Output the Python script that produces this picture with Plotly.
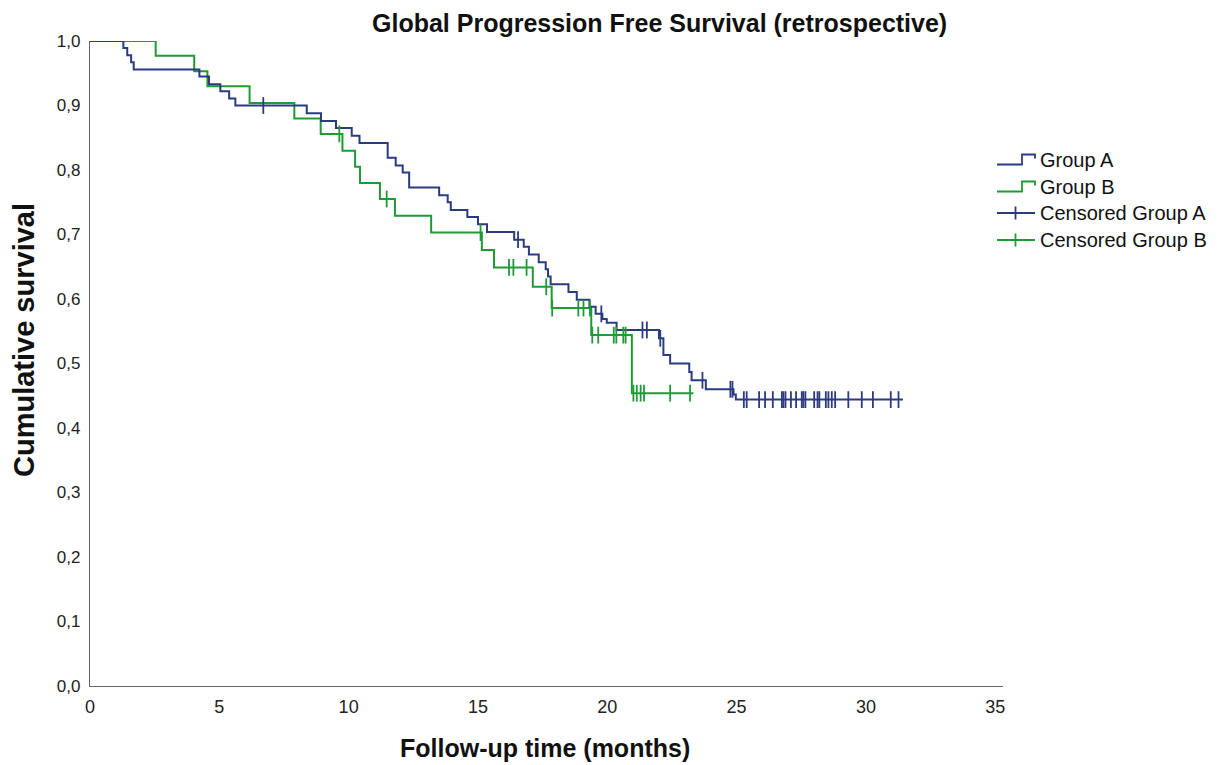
import numpy as np
import plotly.graph_objects as go

# ---------------- data ----------------
# Group A: event times (months) and survival after each step
a_times = [0, 1.29, 1.44, 1.59, 1.69, 4.23, 4.60, 5.04, 5.38, 5.62, 8.38, 8.93, 9.51,
           10.12, 10.42, 11.51, 11.82, 12.09, 12.34, 13.50, 13.83, 13.95, 14.59, 15.00,
           15.35, 16.40, 16.77, 16.97, 17.35, 17.62, 17.71, 17.81, 18.50, 18.82, 19.31,
           19.55, 19.81, 19.98, 20.36, 22.00, 22.17, 22.43, 23.17, 23.26, 23.81, 24.88,
           24.97, 31.43]
a_surv = [1.0, 0.989, 0.978, 0.967, 0.956, 0.945, 0.933, 0.922, 0.911, 0.900, 0.888, 0.876,
          0.865, 0.853, 0.842, 0.819, 0.807, 0.796, 0.773, 0.761, 0.750, 0.738, 0.727,
          0.716, 0.704, 0.692, 0.681, 0.669, 0.657, 0.646, 0.635, 0.623, 0.611, 0.599,
          0.588, 0.577, 0.569, 0.563, 0.552, 0.539, 0.513, 0.500, 0.487, 0.474, 0.460,
          0.452, 0.444, 0.444]
a_censored = [6.70, 16.55, 19.77, 21.36, 21.53, 22.05, 23.68, 24.76, 24.84, 25.28, 25.39,
              25.87, 26.10, 26.40, 26.75, 26.81, 26.89, 27.10, 27.30, 27.52, 27.58, 27.66,
              28.00, 28.13, 28.20, 28.45, 28.55, 28.68, 28.81, 29.32, 29.84, 30.27, 30.96,
              31.26]

# Group B
b_times = [0, 2.54, 4.03, 4.54, 6.17, 7.90, 8.92, 9.76, 10.25, 10.44, 11.21, 11.79, 13.19,
           15.15, 15.62, 17.12, 17.85, 19.38, 20.95, 23.33]
b_surv = [1.0, 0.977, 0.953, 0.930, 0.904, 0.880, 0.856, 0.830, 0.805, 0.780, 0.755, 0.729,
          0.703, 0.676, 0.649, 0.619, 0.586, 0.544, 0.454, 0.454]
b_censored = [9.64, 11.47, 15.10, 16.20, 16.37, 16.88, 17.64, 17.87, 18.88, 19.08, 19.33,
              19.42, 19.65, 20.25, 20.35, 20.62, 20.71, 21.01, 21.14, 21.29, 21.42, 22.43,
              23.20]

x_ticks = [0, 5, 10, 15, 20, 25, 30, 35]
y_ticks = [0.0, 0.1, 0.2, 0.3, 0.4, 0.5, 0.6, 0.7, 0.8, 0.9, 1.0]

title_text = "Global Progression Free Survival (retrospective)"
x_title = "Follow-up time (months)"
y_title = "Cumulative survival"
legend_labels = ["Group A", "Group B", "Censored Group A", "Censored Group B"]

BLUE = "#2b3b80"
GREEN = "#1f9a35"
FONT = "Liberation Sans, Arial, sans-serif"
NARROW = "Liberation Sans Narrow, Liberation Sans, Arial, sans-serif"


def step_value(times, surv, t):
    idx = np.searchsorted(np.asarray(times), t, side="right") - 1
    return np.asarray(surv)[idx]


fig = go.Figure()
fig.add_trace(go.Scatter(x=b_times, y=b_surv, mode="lines", line=dict(shape="hv", color=GREEN, width=2),
                         showlegend=False, hoverinfo="skip"))
fig.add_trace(go.Scatter(x=a_times, y=a_surv, mode="lines", line=dict(shape="hv", color=BLUE, width=2),
                         showlegend=False, hoverinfo="skip"))
fig.add_trace(go.Scatter(x=b_censored, y=step_value(b_times, b_surv, b_censored), mode="markers",
                         marker=dict(symbol="line-ns", size=12, line=dict(color=GREEN, width=1.8)),
                         showlegend=False, hoverinfo="skip"))
fig.add_trace(go.Scatter(x=a_censored, y=step_value(a_times, a_surv, a_censored), mode="markers",
                         marker=dict(symbol="line-ns", size=12, line=dict(color=BLUE, width=1.8)),
                         showlegend=False, hoverinfo="skip"))

# ---------------- layout geometry (pixels) ----------------
W, H = 1219, 765
L, R, T, B = 90, 1003, 41, 686   # plot area edges
pw, ph = R - L, B - T


def px(xp):
    return (xp - L) / pw


def py(yp):
    return (B - yp) / ph


shapes = []
annotations = []

# legend drawn by hand (step icons, censor icons)
leg_rows = [160, 187, 213, 240]
cols = [BLUE, GREEN, BLUE, GREEN]
for i, (yc, col, lab) in enumerate(zip(leg_rows, cols, legend_labels)):
    if i < 2:
        pts = [(997, yc + 4.5), (1022, yc + 4.5), (1022, yc - 5.5), (1035, yc - 5.5), (1035, yc - 1.5)]
        path = "M " + " L ".join(f"{px(a):.5f},{py(b):.5f}" for a, b in pts)
        shapes.append(dict(type="path", path=path, xref="paper", yref="paper",
                           line=dict(color=col, width=1.8)))
    else:
        shapes.append(dict(type="line", xref="paper", yref="paper", x0=px(997), x1=px(1035),
                           y0=py(yc), y1=py(yc), line=dict(color=col, width=1.8)))
        shapes.append(dict(type="line", xref="paper", yref="paper", x0=px(1015.5), x1=px(1015.5),
                           y0=py(yc - 6.5), y1=py(yc + 6.5), line=dict(color=col, width=1.8)))
    annotations.append(dict(text=lab, xref="paper", yref="paper", x=px(1038), y=py(yc),
                            xanchor="left", yanchor="middle", showarrow=False,
                            font=dict(family=FONT, size=20, color="#111")))

annotations.append(dict(text=f"<b>{title_text}</b>", xref="paper", yref="paper", x=px(659), y=py(23),
                        xanchor="center", yanchor="middle", showarrow=False,
                        font=dict(family=FONT, size=25, color="#111")))
annotations.append(dict(text=f"<b>{x_title}</b>", xref="paper", yref="paper", x=px(545), y=py(748),
                        xanchor="center", yanchor="middle", showarrow=False,
                        font=dict(family=FONT, size=25, color="#111")))
annotations.append(dict(text=f"<b>{y_title}</b>", xref="paper", yref="paper", x=px(24), y=py(340),
                        xanchor="center", yanchor="middle", showarrow=False, textangle=-90,
                        font=dict(family=FONT, size=29, color="#111")))

fig.update_layout(
    width=W, height=H,
    margin=dict(l=L, r=W - R, t=T, b=H - B, pad=0),
    paper_bgcolor="white", plot_bgcolor="white",
    separators=",.",
    showlegend=False,
    shapes=shapes, annotations=annotations,
    font=dict(family=FONT, size=17, color="#222"),
)
fig.update_xaxes(range=[0, 35.3], tickvals=x_ticks, ticktext=[str(v) for v in x_ticks],
                 showgrid=False, zeroline=False, showline=True, linecolor="#666", linewidth=1.2,
                 ticks="", ticklen=0, ticklabelstandoff=4,
                 tickfont=dict(family=NARROW, size=18, color="#222"))
fig.update_yaxes(range=[0, 1.0], tickvals=y_ticks, tickformat=".1f",
                 showgrid=False, zeroline=False, showline=True, linecolor="#666", linewidth=1.2,
                 ticks="", ticklen=0, ticklabelstandoff=5,
                 tickfont=dict(family=FONT, size=17, color="#222"))

fig.write_html("out.html", config={"displayModeBar": False},
               post_script="document.body.style.margin='0';")
